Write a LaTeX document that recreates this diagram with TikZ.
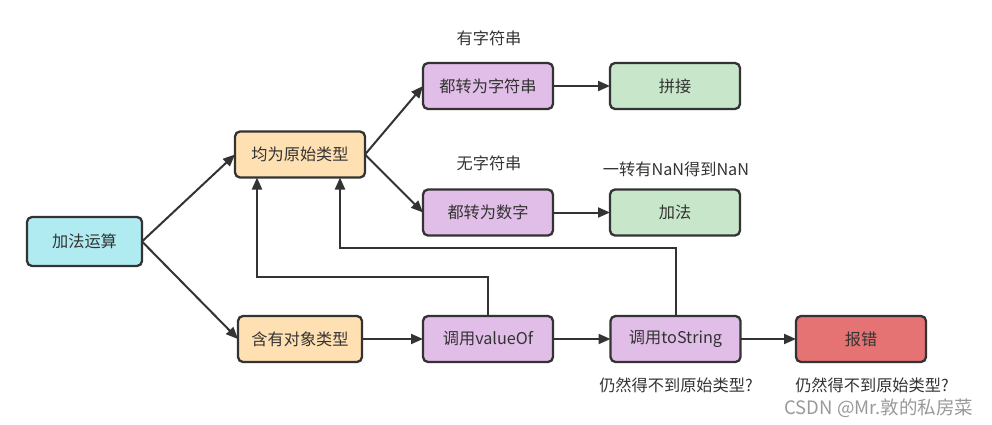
\documentclass[tikz,border=0pt]{standalone}
\usepackage{fontspec}
\setmainfont{Noto Sans CJK SC}
\usepackage{tikz}
\usetikzlibrary{arrows.meta}
\definecolor{inkgray}{HTML}{333333}
\definecolor{fillcyan}{HTML}{B1EBF2}
\definecolor{fillorange}{HTML}{FFE0B3}
\definecolor{fillpurple}{HTML}{E1BEE7}
\definecolor{fillgreen}{HTML}{C8E6C9}
\definecolor{fillred}{HTML}{E57373}
\newcommand{\stepfont}{\fontsize{16.2}{19}\selectfont}
\tikzstyle{box}=[draw=inkgray, line width=2.3pt, rounded corners=5pt, inner sep=0, outer sep=0,
                 text=inkgray, font=\stepfont, minimum width=130pt, minimum height=46pt]
\tikzstyle{startbox}=[box, fill=fillcyan, minimum width=115pt, minimum height=49pt]
\tikzstyle{typebox}=[box, fill=fillorange]
\tikzstyle{actbox}=[box, fill=fillpurple]
\tikzstyle{resbox}=[box, fill=fillgreen]
\tikzstyle{errbox}=[box, fill=fillred]
\tikzstyle{note}=[text=inkgray, font=\stepfont, inner sep=0]
\tikzstyle{flow}=[draw=inkgray, line width=2pt, -{Triangle[length=12pt,width=10pt]}]

\begin{document}
\begin{tikzpicture}[x=1pt, y=-1pt]
        \useasboundingbox (0,0) rectangle (992,425);
        % boxes
        \node[startbox]                    (add)      at (84.5, 241.5) {加法运算};
        \node[typebox]                     (prim)     at (300, 154.5)  {均为原始类型};
        \node[typebox, minimum width=124pt] (obj)     at (300, 339)    {含有对象类型};
        \node[actbox]                      (tostr)    at (488, 86)     {都转为字符串};
        \node[actbox]                      (tonum)    at (488, 212.5)  {都转为数字};
        \node[resbox]                      (concat)   at (675, 86)     {拼接};
        \node[resbox]                      (plus)     at (675, 212.5)  {加法};
        \node[actbox]                      (valueof)  at (488, 339)    {调用valueOf};
        \node[actbox]                      (tostring) at (675.5, 339)  {调用toString};
        \node[errbox]                      (err)      at (861, 339)    {报错};
        % labels
        \node[note] (hasstr) at (489, 38)  {有字符串};
        \node[note] (nostr)  at (489, 163) {无字符串};
        \node[note] (nan)    at (676, 169) {一转有NaN得到NaN};
        \node[note] (fail1)  at (676, 385) {仍然得不到原始类型?};
        \node[note] (fail2)  at (872, 385) {仍然得不到原始类型?};
        \node[text=gray!80, font=\fontsize{18.5}{20}\selectfont, inner sep=0] (mark) at (879, 408) {CSDN @Mr.敦的私房菜};
        % connectors
        \draw[flow] (add.east) -- (prim.west);
        \draw[flow] (add.east) -- (obj.west);
        \draw[flow] (prim.east) -- (tostr.west);
        \draw[flow] (prim.east) -- (tonum.west);
        \draw[flow] (tostr) -- (concat);
        \draw[flow] (tonum) -- (plus);
        \draw[flow] (obj) -- (valueof);
        \draw[flow] (valueof) -- (tostring);
        \draw[flow] (tostring) -- (err);
        \coordinate (back1) at (257, 277);
        \coordinate (back2) at (340, 248);
        \draw[flow] (valueof.north) |- (back1) -- (back1 |- prim.south);
        \draw[flow] (tostring.north) |- (back2) -- (back2 |- prim.south);
\end{tikzpicture}
\end{document}
